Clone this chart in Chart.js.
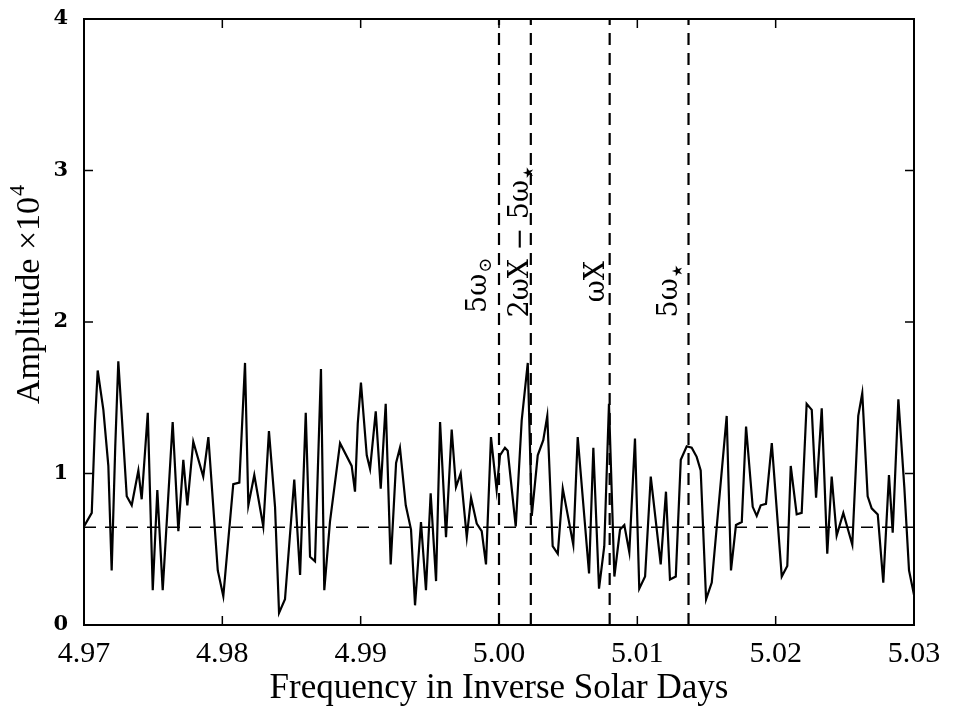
<!DOCTYPE html>
<html>
<head>
<meta charset="utf-8">
<script src="https://cdn.jsdelivr.net/npm/chart.js@4.4.0/dist/chart.umd.min.js"></script>
<style>
  html, body { margin: 0; padding: 0; background: #fff; }
  #wrap { width: 954px; height: 712px; }
</style>
</head>
<body>
<div id="wrap"><canvas id="ampchart" width="954" height="712"></canvas></div>
<script>
// amplitude spectrum (x 10^4)
const freqs = [
  4.97000, 4.97056, 4.97080, 4.97099, 4.97140, 4.97176, 4.97200, 4.97226, 4.97248, 4.97273,
  4.97309, 4.97345, 4.97393, 4.97417, 4.97461, 4.97497, 4.97530, 4.97569, 4.97641, 4.97682,
  4.97718, 4.97747, 4.97790, 4.97862, 4.97899, 4.97967, 4.98007, 4.98079, 4.98123, 4.98164,
  4.98188, 4.98231, 4.98296, 4.98337, 4.98381, 4.98410, 4.98453, 4.98520, 4.98562, 4.98603,
  4.98634, 4.98670, 4.98713, 4.98737, 4.98778, 4.98851, 4.98935, 4.98959, 4.98979, 4.99002,
  4.99044, 4.99068, 4.99109, 4.99145, 4.99181, 4.99217, 4.99256, 4.99284, 4.99326, 4.99364,
  4.99393, 4.99436, 4.99472, 4.99506, 4.99545, 4.99574, 4.99617, 4.99658, 4.99689, 4.99723,
  4.99767, 4.99798, 4.99839, 4.99875, 4.99906, 4.99942, 4.99983, 5.00007, 5.00043, 5.00063,
  5.00121, 5.00164, 5.00208, 5.00237, 5.00280, 5.00320, 5.00349, 5.00388, 5.00425, 5.00461,
  5.00537, 5.00569, 5.00651, 5.00682, 5.00723, 5.00761, 5.00795, 5.00834, 5.00875, 5.00906,
  5.00942, 5.00983, 5.01014, 5.01056, 5.01097, 5.01169, 5.01207, 5.01236, 5.01278, 5.01314,
  5.01357, 5.01393, 5.01429, 5.01458, 5.01497, 5.01538, 5.01646, 5.01677, 5.01713, 5.01755,
  5.01786, 5.01834, 5.01863, 5.01892, 5.01930, 5.01972, 5.02044, 5.02084, 5.02109, 5.02152,
  5.02188, 5.02224, 5.02261, 5.02292, 5.02333, 5.02373, 5.02405, 5.02441, 5.02489, 5.02554,
  5.02597, 5.02626, 5.02665, 5.02694, 5.02738, 5.02778, 5.02819, 5.02846, 5.02887, 5.02930,
  5.02964, 5.03000
];
const amps = [
  0.65, 0.74, 1.34, 1.68, 1.42, 1.05, 0.36, 1.18, 1.74, 1.38,
  0.85, 0.79, 1.02, 0.83, 1.40, 0.23, 0.89, 0.23, 1.34, 0.62,
  1.09, 0.79, 1.21, 0.98, 1.24, 0.36, 0.19, 0.93, 0.94, 1.73,
  0.79, 0.99, 0.65, 1.28, 0.78, 0.08, 0.17, 0.96, 0.33, 1.40,
  0.45, 0.42, 1.69, 0.23, 0.68, 1.20, 1.05, 0.88, 1.33, 1.60,
  1.12, 1.03, 1.41, 0.90, 1.46, 0.40, 1.07, 1.17, 0.79, 0.63,
  0.13, 0.68, 0.23, 0.87, 0.29, 1.34, 0.58, 1.29, 0.91, 1.00,
  0.58, 0.84, 0.67, 0.62, 0.40, 1.24, 0.89, 1.12, 1.17, 1.15,
  0.65, 1.35, 1.73, 0.72, 1.12, 1.22, 1.38, 0.52, 0.47, 0.90,
  0.53, 1.24, 0.34, 1.17, 0.24, 0.52, 1.46, 0.32, 0.63, 0.66,
  0.48, 1.23, 0.24, 0.32, 0.98, 0.40, 0.88, 0.30, 0.32, 1.09,
  1.18, 1.17, 1.11, 1.02, 0.17, 0.28, 1.38, 0.36, 0.66, 0.68,
  1.31, 0.78, 0.72, 0.79, 0.80, 1.20, 0.32, 0.39, 1.05, 0.73,
  0.74, 1.46, 1.42, 0.84, 1.43, 0.47, 0.98, 0.59, 0.74, 0.53,
  1.38, 1.53, 0.85, 0.77, 0.73, 0.28, 0.99, 0.61, 1.49, 0.91,
  0.36, 0.20
];
const noiseLevel = 0.645;
const markerFreqs = [5.0000, 5.0023, 5.0080, 5.0137];
// label parts: [text, isSubscript]
const markerLabels = [
  [['5\u03c9', 0], ['\u2299', 1]],
  [['2\u03c9X \u2212 5\u03c9', 0], ['\u2605', 1]],
  [['\u03c9X', 0]],
  [['5\u03c9', 0], ['\u2605', 1]]
];
const xTicks = [4.97, 4.98, 4.99, 5.00, 5.01, 5.02, 5.03];
const yTicks = [0, 1, 2, 3, 4];

const canvas = document.getElementById('ampchart');

const spectrum = freqs.map((f, i) => ({ x: f, y: amps[i] }));
const datasets = [{
  data: spectrum,
  borderColor: '#000',
  borderWidth: 2.2,
  pointRadius: 0,
  tension: 0
}, {
  data: [{ x: xTicks[0], y: noiseLevel }, { x: xTicks[xTicks.length - 1], y: noiseLevel }],
  borderColor: '#000',
  borderWidth: 1.5,
  borderDash: [12, 9],
  pointRadius: 0
}];
markerFreqs.forEach(f => {
  datasets.push({
    data: [{ x: f, y: yTicks[0] }, { x: f, y: yTicks[yTicks.length - 1] }],
    borderColor: '#000',
    borderWidth: 2.2,
    borderDash: [12, 8],
    pointRadius: 0
  });
});

// label placement next to each dashed line: [px left of line, start y value]
const labelPlace = [[13, 2.06], [3, 2.03], [6, 2.13], [12, 2.03]];

const framePlugin = {
  id: 'frame',
  afterDraw(chart) {
    const ctx = chart.ctx;
    const a = chart.chartArea;
    const xs = chart.scales.x, ys = chart.scales.y;
    ctx.save();
    ctx.strokeStyle = '#000';
    ctx.lineWidth = 2;
    ctx.strokeRect(a.left, a.top, a.right - a.left, a.bottom - a.top);
    ctx.lineWidth = 1.5;
    ctx.beginPath();
    xTicks.forEach(v => {
      const px = xs.getPixelForValue(v);
      ctx.moveTo(px, a.bottom); ctx.lineTo(px, a.bottom - 9);
      ctx.moveTo(px, a.top); ctx.lineTo(px, a.top + 9);
    });
    yTicks.forEach(v => {
      const py = ys.getPixelForValue(v);
      ctx.moveTo(a.left, py); ctx.lineTo(a.left + 9, py);
      ctx.moveTo(a.right, py); ctx.lineTo(a.right - 9, py);
    });
    ctx.stroke();

    // rotated labels of the dashed lines
    ctx.fillStyle = '#000';
    ctx.textBaseline = 'alphabetic';
    ctx.textAlign = 'left';
    markerFreqs.forEach((f, i) => {
      const px = xs.getPixelForValue(f) - labelPlace[i][0];
      const py = ys.getPixelForValue(labelPlace[i][1]);
      ctx.save();
      ctx.translate(px, py);
      ctx.rotate(-Math.PI / 2);
      let cx = 0;
      markerLabels[i].forEach(([t, sub]) => {
        ctx.font = sub ? '14px "DejaVu Sans"' : '27px "DejaVu Serif"';
        if (t === '\u2299') ctx.font = '18px "DejaVu Serif"';
        ctx.fillText(t, cx + (sub ? 1 : 0), sub ? 5 : 0);
        cx += ctx.measureText(t).width + (sub ? 1 : 0);
      });
      ctx.restore();
    });

    // y axis title with superscript
    ctx.save();
    ctx.translate(28, 295);
    ctx.rotate(-Math.PI / 2);
    ctx.font = '34px "Liberation Serif"';
    const main = 'Amplitude \u00d710';
    const w1 = ctx.measureText(main).width;
    ctx.font = '22px "Liberation Serif"';
    const w2 = ctx.measureText('4').width;
    const x0 = -(w1 + w2) / 2;
    ctx.textBaseline = 'middle';
    ctx.font = '34px "Liberation Serif"';
    ctx.fillText(main, x0, 2);
    ctx.font = '22px "Liberation Serif"';
    ctx.fillText('4', x0 + w1 + 1, -10);
    ctx.restore();
    ctx.restore();
  }
};

new Chart(canvas, {
  type: 'line',
  data: { datasets: datasets },
  options: {
    responsive: false,
    animation: false,
    devicePixelRatio: 1,
    layout: { padding: { left: 0, top: 19, right: 40, bottom: 0 } },
    plugins: { legend: { display: false }, tooltip: { enabled: false } },
    scales: {
      x: {
        type: 'linear',
        min: 4.97,
        max: 5.03,
        afterBuildTicks: s => { s.ticks = xTicks.map(v => ({ value: v })); },
        afterFit: s => { s.height = 87; s.paddingLeft = 0; s.paddingRight = 0; },
        grid: { display: false, drawTicks: false },
        border: { display: false },
        ticks: {
          color: '#000',
          padding: 11,
          maxRotation: 0,
          autoSkip: false,
          font: { family: 'Liberation Serif', size: 30 },
          callback: v => Number(v).toFixed(2)
        },
        title: {
          display: true,
          text: 'Frequency in Inverse Solar Days',
          color: '#000',
          font: { family: 'Liberation Serif', size: 35 },
          padding: { top: 0, bottom: 2 }
        }
      },
      y: {
        type: 'linear',
        min: 0,
        max: 4,
        afterBuildTicks: s => { s.ticks = yTicks.map(v => ({ value: v })); },
        afterFit: s => { s.width = 84; s.paddingTop = 0; s.paddingBottom = 0; },
        grid: { display: false, drawTicks: false },
        border: { display: false },
        ticks: {
          color: '#000',
          padding: 16,
          font: { family: 'DejaVu Serif', size: 21, weight: 'bold' },
          callback: v => String(v)
        }
      }
    }
  },
  plugins: [framePlugin]
});
</script>
</body>
</html>
